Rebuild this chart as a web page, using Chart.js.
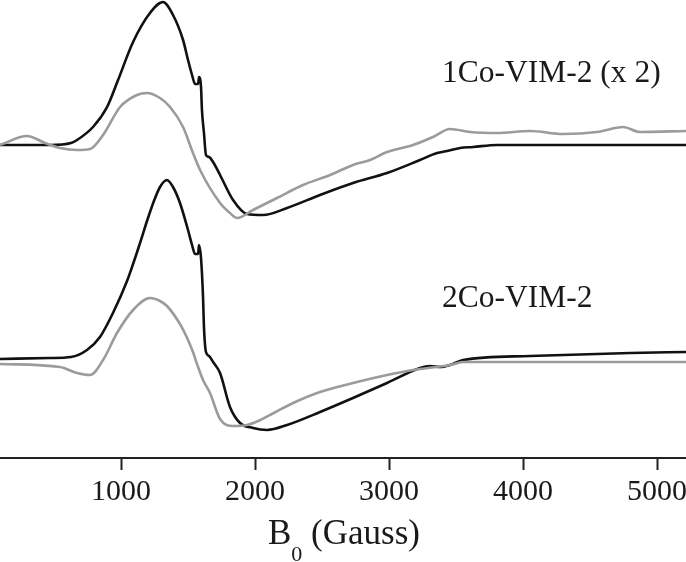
<!DOCTYPE html>
<html>
<head>
<meta charset="utf-8">
<script src="https://cdn.jsdelivr.net/npm/chart.js@4"></script>
<style>
  html, body { margin: 0; padding: 0; background: #fff; }
  #wrap { width: 686px; height: 562px; }
</style>
</head>
<body>
<div id="wrap"><canvas id="eprChart"></canvas></div>
<script>
// x ticks (Gauss)
const tickValues = [1000, 2000, 3000, 4000, 5000];

// 1Co-VIM-2 (x 2), black trace: field (G) and signal (a.u.)
const fieldCo1Black = [97, 470, 627, 672, 791, 896, 978, 1090, 1216, 1313, 1388, 1463, 1500, 1530, 1552, 1575, 1582, 1597, 1604, 1619, 1634, 1657, 1687, 1739, 1836, 1940, 2060, 2239, 2485, 2731, 2985, 3231, 3358, 3433, 3530, 3627, 3806, 5216];
const signalCo1Black = [0, 0, 2, 5, 18, 38, 65, 103, 132, 143, 130, 105, 85, 70, 61, 61, 68, 58, 35, 12, -10, -12, -17, -30, -55, -69, -70, -63, -50, -38, -28, -15, -8, -6, -3, -2, 0, 0];

// 1Co-VIM-2 (x 2), gray trace
const fieldCo1Gray = [97, 298, 433, 545, 672, 769, 866, 993, 1119, 1194, 1291, 1366, 1463, 1537, 1590, 1739, 1813, 1866, 1985, 2164, 2358, 2560, 2731, 2858, 2985, 3179, 3328, 3455, 3604, 3806, 4052, 4298, 4552, 4746, 4873, 5216];
const signalCo1Gray = [0, 9, 2, -3, -5, -4, 10, 38, 50, 52, 47, 38, 18, -8, -25, -58, -68, -73, -65, -53, -40, -30, -20, -15, -7, 0, 8, 16, 13, 12, 14, 11, 13, 18, 13, 14];

// 2Co-VIM-2, black trace
const fieldCo2Black = [97, 470, 627, 746, 843, 940, 1045, 1090, 1142, 1194, 1243, 1291, 1343, 1388, 1440, 1500, 1530, 1552, 1575, 1582, 1597, 1612, 1619, 1634, 1657, 1687, 1739, 1813, 1888, 1985, 2090, 2239, 2485, 2731, 2985, 3231, 3306, 3381, 3455, 3552, 4052, 4799, 5216];
const signalCo2Black = [0, 1, 2, 9, 22, 46, 78, 95, 116, 138, 157, 172, 179, 172, 156, 129, 114, 105, 105, 114, 101, 62, 32, 7, 3, -3, -14, -48, -64, -69, -71, -66, -53, -39, -24, -9, -7, -8, -6, -1, 3, 6, 7];

// 2Co-VIM-2, gray trace
const fieldCo2Gray = [97, 545, 672, 769, 866, 970, 1090, 1216, 1291, 1343, 1440, 1490, 1537, 1567, 1612, 1664, 1739, 1836, 1940, 2040, 2140, 2284, 2485, 2731, 2985, 3179, 3455, 3552, 4052, 5216];
const signalCo2Gray = [0, -3, -9, -11, 4, 31, 54, 66, 63, 58, 40, 27, 12, 0, -16, -29, -55, -62, -61, -56, -49, -39, -28, -19, -11, -6, -1, 2, 2, 2];

// vertical stacking offsets of the spectra
const offsetCo1Black = 313, offsetCo1Gray = 313;
const offsetCo2Black = 99, offsetCo2Gray = 94;

const traceLabels = ['1Co-VIM-2 (x 2)', '2Co-VIM-2'];

function toPoints(fields, signals, offset) {
    return fields.map((f, i) => ({ x: f, y: signals[i] + offset }));
}

function trace(fields, signals, offset, color) {
    return {
        data: toPoints(fields, signals, offset),
        borderColor: color,
        borderWidth: 2.6,
        pointRadius: 0,
        cubicInterpolationMode: 'monotone',
        clip: false
    };
}

const serif = '"Liberation Serif", "DejaVu Serif", serif';
const GRAY = '#9b9b9b';
const BLACK = '#111';

// text labels and the axis title with a subscript
const textPlugin = {
    id: 'textPlugin',
    afterDraw(chart) {
        const c = chart.ctx;
        const xs = chart.scales.x, ys = chart.scales.y;
        c.save();
        c.fillStyle = '#1a1a1a';
        c.textBaseline = 'alphabetic';
        c.textAlign = 'left';
        c.font = '31.5px ' + serif;
        c.fillText(traceLabels[0], xs.getPixelForValue(3395), ys.getPixelForValue(376));
        c.fillText(traceLabels[1], xs.getPixelForValue(3395), ys.getPixelForValue(151));

        // B0 (Gauss)
        const big = '35px ' + serif, small = '22px ' + serif;
        c.font = big;
        const wB = c.measureText('B').width;
        const wRest = c.measureText(' (Gauss)').width;
        c.font = small;
        const wSub = c.measureText('0').width;
        const total = wB + wSub + wRest;
        let x = (chart.chartArea.left + chart.chartArea.right) / 2 - total / 2 + 1;
        c.font = big;
        c.fillText('B', x, 544);
        x += wB;
        c.font = small;
        c.fillText('0', x, 561);
        x += wSub;
        c.font = big;
        c.fillText(' (Gauss)', x, 544);
        c.restore();
    }
};

const ctx = document.getElementById('eprChart').getContext('2d');
const eprChart = new Chart(ctx, {
    type: 'line',
    data: {
        datasets: [
            trace(fieldCo1Gray, signalCo1Gray, offsetCo1Gray, GRAY),
            trace(fieldCo1Black, signalCo1Black, offsetCo1Black, BLACK),
            trace(fieldCo2Gray, signalCo2Gray, offsetCo2Gray, GRAY),
            trace(fieldCo2Black, signalCo2Black, offsetCo2Black, BLACK)
        ]
    },
    options: {
        responsive: true,
        maintainAspectRatio: false,
        animation: false,
        layout: { padding: 0 },
        plugins: {
            legend: { display: false },
            tooltip: { enabled: false }
        },
        scales: {
            x: {
                type: 'linear',
                min: 97,
                max: 5216,
                afterBuildTicks: (scale) => {
                    scale.ticks = tickValues.map(v => ({ value: v }));
                },
                afterFit: (scale) => {
                    scale.height = 104;
                    scale.paddingLeft = 0;
                    scale.paddingRight = 0;
                },
                border: { display: true, color: '#222', width: 2 },
                grid: {
                    drawOnChartArea: false,
                    drawTicks: true,
                    tickLength: 12,
                    tickWidth: 2,
                    tickColor: '#222'
                },
                ticks: {
                    color: '#1a1a1a',
                    font: { family: serif, size: 30 },
                    padding: 4,
                    maxRotation: 0,
                    autoSkip: false,
                    callback: (v) => String(v)
                }
            },
            y: {
                display: false,
                min: 0,
                max: 458
            }
        }
    },
    plugins: [textPlugin]
});
</script>
</body>
</html>
